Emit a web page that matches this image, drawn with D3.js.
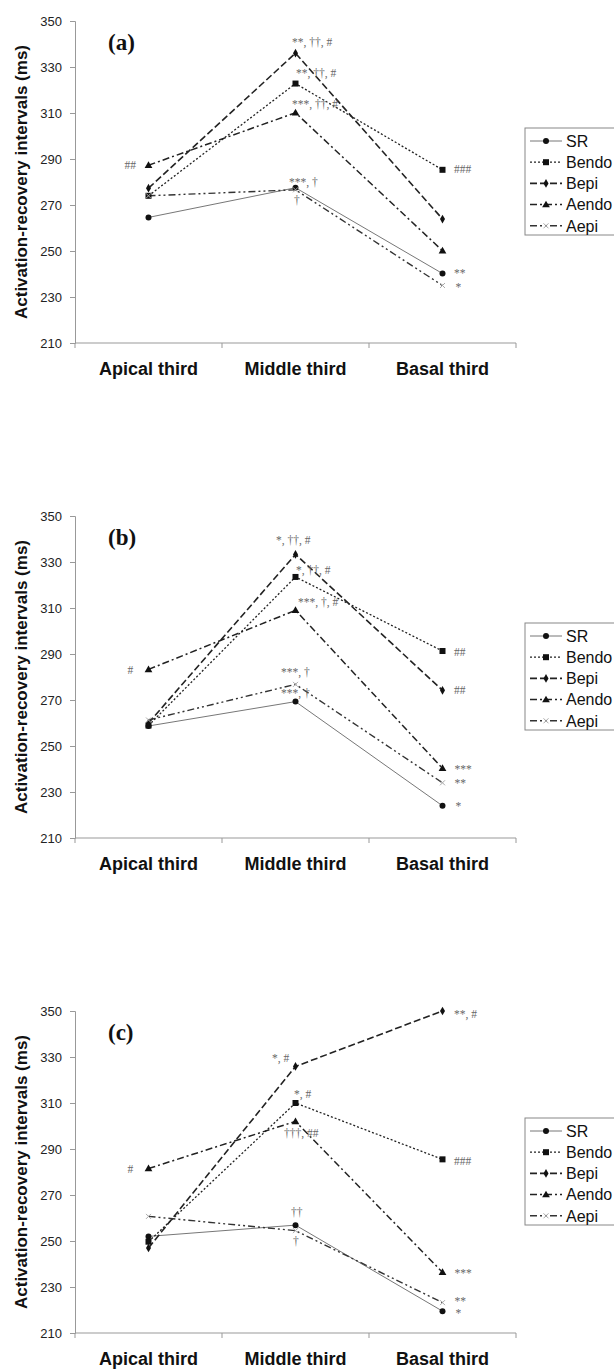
<!DOCTYPE html>
<html>
<head>
<meta charset="utf-8">
<script src="https://cdn.jsdelivr.net/npm/d3@7"></script>
<style>
  body { margin: 0; background: #fff; }
  svg { display: block; }
  /* a tiny opacity keeps the small grey marks on greyscale smoothing */
  .notes { opacity: 0.99; }
</style>
</head>
<body>
<div id="chart"></div>
<script>
// three stacked panels of ARI per third of the ventricle

var categories = ['Apical third', 'Middle third', 'Basal third'];
var seriesNames = ['SR', 'Bendo', 'Bepi', 'Aendo', 'Aepi'];
var panelLabels = ['(a)', '(b)', '(c)'];
var yTicks = [210, 230, 250, 270, 290, 310, 330, 350];

// panel (a)
var srA = [264.6, 277.5, 240.2];
var bendoA = [274, 322.8, 285.3];
var bepiA = [277.3, 336, 263.9];
var aendoA = [287.3, 310.1, 250.1];
var aepiA = [274, 276.6, 235];

// panel (b)
var srB = [258.7, 269.3, 224];
var bendoB = [258.9, 323.5, 291.3];
var bepiB = [260, 333.3, 274.2];
var aendoB = [283.3, 309, 240.3];
var aepiB = [261.3, 276.8, 234];

// panel (c)
var srC = [252, 256.9, 219.5];
var bendoC = [249.7, 310, 285.5];
var bepiC = [247, 325.9, 350];
var aendoC = [281.5, 302, 236.4];
var aepiC = [260.7, 254.5, 223.2];

// significance marks: [category, value level, text, dx]
var notesA = [
  [1, 340.9, '**, \u2020\u2020, #', -3.5],
  [1, 327.4, '**, \u2020\u2020, #', 0.5],
  [1, 313.9, '***, \u2020\u2020, #', -3.5],
  [1, 280, '***, \u2020', -6.5],
  [1, 272.2, '\u2020', -1.5],
  [0, 287.4, '##', -24],
  [2, 285.7, '###', 11.5],
  [2, 240.5, '**', 11.5],
  [2, 234.5, '*', 13]
];
var notesB = [
  [1, 339.6, '*, \u2020\u2020, #', -19.5],
  [1, 326.5, '*, \u2020\u2020, #', 0.5],
  [1, 312.6, '***, \u2020, #', 2.5],
  [1, 282.2, '***, \u2020', -14.5],
  [1, 273.1, '***, \u2020', -14.5],
  [0, 283.1, '#', -21],
  [2, 290.9, '##', 11.5],
  [2, 274.3, '##', 11.5],
  [2, 240, '***', 12],
  [2, 234, '**', 12],
  [2, 224, '*', 13]
];
var notesC = [
  [2, 348.7, '**, #', 11.5],
  [1, 329.6, '*, #', -23.5],
  [1, 313.9, '*, #', -1.5],
  [1, 297, '\u2020\u2020\u2020, ##', -11.5],
  [0, 281.3, '#', -21],
  [2, 284.8, '###', 11.5],
  [1, 262.6, '\u2020\u2020', -4.5],
  [1, 250, '\u2020', -2.5],
  [2, 236.1, '***', 12],
  [2, 224, '**', 12],
  [2, 218.5, '*', 13]
];

var panels = [
  { label: panelLabels[0], series: [srA, bendoA, bepiA, aendoA, aepiA], notes: notesA },
  { label: panelLabels[1], series: [srB, bendoB, bepiB, aendoB, aepiB], notes: notesB },
  { label: panelLabels[2], series: [srC, bendoC, bepiC, aendoC, aepiC], notes: notesC }
];

// line look per series
var styles = [
  { stroke: '#777', width: 1, dash: null, marker: 'circle' },
  { stroke: '#222', width: 1.3, dash: '2,2', marker: 'square' },
  { stroke: '#222', width: 1.6, dash: '7,3', marker: 'diamond' },
  { stroke: '#222', width: 1.5, dash: '7,3,2,3', marker: 'triangle' },
  { stroke: '#333', width: 1.4, dash: '7,3,2,3,2,3', marker: 'cross' }
];

var width = 614, height = 1369;
var left = 75, right = 516, plotH = 322, firstTop = 21, step = 495;

var svg = d3.select('#chart').append('svg')
  .attr('width', width)
  .attr('height', height);
svg.append('rect').attr('width', width).attr('height', height).attr('fill', '#fff');

var x = d3.scaleBand().domain(categories).range([left, right]).padding(0);
var cx = function(i) { return x(categories[i]) + x.bandwidth() / 2; };

var drawMarker = function(g, kind, px, py) {
  if (kind === 'circle') {
    g.append('circle').attr('cx', px).attr('cy', py).attr('r', 3).attr('fill', '#111');
  } else if (kind === 'square') {
    g.append('rect').attr('x', px - 3).attr('y', py - 3).attr('width', 6).attr('height', 6).attr('fill', '#111');
  } else if (kind === 'diamond') {
    g.append('path').attr('d', d3.symbol().type(d3.symbolDiamond).size(22)())
      .attr('transform', 'translate(' + px + ',' + py + ')').attr('fill', '#111');
  } else if (kind === 'triangle') {
    g.append('path').attr('d', d3.symbol().type(d3.symbolTriangle).size(26)())
      .attr('transform', 'translate(' + px + ',' + (py + 0.5) + ')').attr('fill', '#111');
  } else {
    g.append('path').attr('d', d3.symbol().type(d3.symbolX).size(18)())
      .attr('transform', 'translate(' + px + ',' + py + ')')
      .attr('fill', 'none').attr('stroke', '#aaa').attr('stroke-width', 1);
  }
};

panels.forEach(function(panel, p) {
  var top = firstTop + p * step;
  var bottom = top + plotH;
  var y = d3.scaleLinear().domain([210, 350]).range([bottom, top]);
  var g = svg.append('g').attr('class', 'panel');

  // y axis
  var yAxis = d3.axisLeft(y).tickValues(yTicks).tickSize(5).tickPadding(8);
  var ya = g.append('g').attr('transform', 'translate(' + left + ',0)').call(yAxis);
  ya.selectAll('path, line').attr('stroke', '#999');
  ya.selectAll('text').attr('font-family', 'Arial, "Liberation Sans", sans-serif')
    .attr('font-size', 13).attr('fill', '#222');

  // x axis with ticks on the band edges
  var xa = g.append('g').attr('transform', 'translate(0,' + bottom + ')');
  xa.append('line').attr('x1', left).attr('x2', right).attr('stroke', '#999');
  var edges = [left].concat(categories.map(function(c) { return x(c) + x.bandwidth(); }));
  xa.selectAll('.edge').data(edges).enter().append('line')
    .attr('class', 'edge')
    .attr('x1', function(d) { return d; }).attr('x2', function(d) { return d; })
    .attr('y1', 0).attr('y2', 5).attr('stroke', '#999');
  xa.selectAll('.cat').data(categories).enter().append('text')
    .attr('class', 'cat')
    .attr('x', function(d) { return x(d) + x.bandwidth() / 2; })
    .attr('y', 32)
    .attr('text-anchor', 'middle')
    .attr('font-family', 'Arial, "Liberation Sans", sans-serif')
    .attr('font-weight', 'bold').attr('font-size', 18).attr('fill', '#111')
    .text(function(d) { return d; });

  // axis title
  g.append('text')
    .attr('transform', 'translate(27,' + (top + plotH / 2) + ') rotate(-90)')
    .attr('text-anchor', 'middle')
    .attr('font-family', 'Arial, "Liberation Sans", sans-serif')
    .attr('font-weight', 'bold').attr('font-size', 17).attr('fill', '#111')
    .text('Activation-recovery intervals (ms)');

  // panel letter
  g.append('text')
    .attr('x', 108).attr('y', top + 29)
    .attr('font-family', '"Liberation Serif", "Times New Roman", serif')
    .attr('font-weight', 'bold').attr('font-size', 23).attr('fill', '#111')
    .text(panel.label);

  // the lines
  var line = d3.line()
    .x(function(d, i) { return cx(i); })
    .y(function(d) { return y(d); });

  panel.series.forEach(function(vals, s) {
    var st = styles[s];
    g.append('path')
      .attr('d', line(vals))
      .attr('fill', 'none')
      .attr('stroke', st.stroke)
      .attr('stroke-width', st.width)
      .attr('stroke-dasharray', st.dash);
  });
  panel.series.forEach(function(vals, s) {
    vals.forEach(function(v, i) { drawMarker(g, styles[s].marker, cx(i), y(v)); });
  });

  // significance marks
  g.append('g').attr('class', 'notes')
    .selectAll('.note').data(panel.notes).enter().append('text')
    .attr('class', 'note')
    .attr('x', function(d) { return cx(d[0]) + d[3]; })
    .attr('y', function(d) { return y(d[1]); })
    .attr('dy', '0.35em')
    .attr('font-family', '"Liberation Serif", "Times New Roman", serif')
    .attr('font-size', 11.5).attr('fill', '#666')
    .text(function(d) { return d[2]; });

  // legend, runs off the right edge like the original
  var lg = g.append('g').attr('transform', 'translate(525,' + (top + 107) + ')');
  lg.append('rect').attr('width', 100).attr('height', 107)
    .attr('fill', '#fff').attr('stroke', '#888');
  seriesNames.forEach(function(name, s) {
    var st = styles[s];
    var ly = 13 + s * 21.2;
    lg.append('line').attr('x1', 5).attr('x2', 37).attr('y1', ly).attr('y2', ly)
      .attr('stroke', st.stroke).attr('stroke-width', st.width)
      .attr('stroke-dasharray', st.dash);
    drawMarker(lg, st.marker, 21, ly);
    lg.append('text').attr('x', 41).attr('y', ly).attr('dy', '0.36em')
      .attr('font-family', 'Arial, "Liberation Sans", sans-serif')
      .attr('font-size', 16).attr('fill', '#111')
      .text(name);
  });
});
</script>
</body>
</html>
